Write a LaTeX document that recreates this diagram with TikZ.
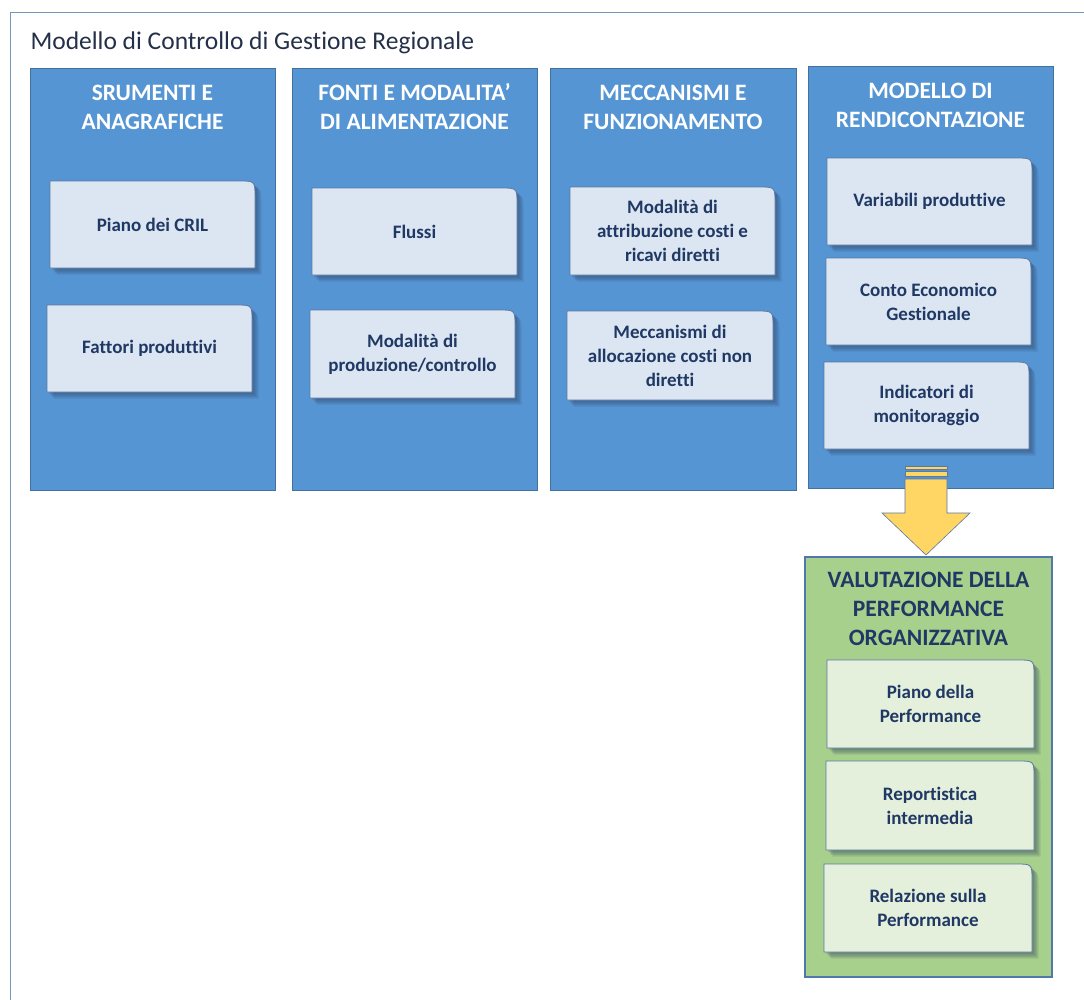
\documentclass[tikz,border=0pt]{standalone}
\usepackage{fontspec}
\setmainfont[Ligatures=NoCommon]{Carlito}
\usetikzlibrary{calc}
\pgfdeclarelayer{bg}
\pgfdeclarelayer{mid}
\pgfsetlayers{bg,mid,main}
\definecolor{colfill}{RGB}{86,149,212}
\definecolor{colborder}{RGB}{65,113,156}
\definecolor{boxblue}{RGB}{220,230,242}
\definecolor{boxgreen}{RGB}{228,239,220}
\definecolor{greenfill}{RGB}{168,208,141}
\definecolor{greenborder}{RGB}{80,120,170}
\definecolor{boxborder}{RGB}{90,120,160}
\definecolor{navy}{RGB}{31,56,100}
\definecolor{titlec}{RGB}{36,48,72}
\definecolor{framec}{RGB}{120,150,185}
\definecolor{yellowc}{RGB}{255,214,100}
\definecolor{shadowc}{RGB}{40,60,90}
\tikzset{
  col/.style={draw=colborder, line width=1pt, fill=colfill, inner sep=0pt},
  gcol/.style={draw=greenborder, line width=1.2pt, fill=greenfill, inner sep=0pt},
  head/.style={text=white, font=\fontsize{23.5}{29}\selectfont\bfseries, align=center},
  ghead/.style={text=navy, font=\fontsize{23.5}{29}\selectfont\bfseries, align=center},
  btext/.style={text=navy, font=\fontsize{19}{24}\selectfont\bfseries, align=center},
  boxline/.style={draw=boxborder, line width=0.8pt},
}
% #1 name, #2 x1, #3 y1, #4 x2, #5 y2, #6 fill, #7 text
\newcommand{\ibox}[7]{%
  \begin{pgfonlayer}{mid}
    \foreach \s in {2,3.5,5,6.5}{%
      \fill[shadowc, opacity=0.14] ({#2+\s},{#5+\s}) -- ({#2+\s},{#3+\s}) -- ({#4-16+\s},{#3+\s}) .. controls ({#4+\s},{#3+\s}) .. ({#4+\s},{#3+16+\s}) -- ({#4+\s},{#5+\s}) -- cycle;
    }
    \path[boxline, fill=#6] (#2,#5) -- (#2,#3) -- ({#4-16},#3) .. controls (#4,#3) .. (#4,{#3+16}) -- (#4,#5) -- cycle;
  \end{pgfonlayer}
  \node[btext] (#1) at ({(#2+#4)/2},{(#3+#5)/2}) {#7};
}
\begin{document}
\begin{tikzpicture}[x=1pt,y=-1pt]
\useasboundingbox (0,0) rectangle (1084,999);
\begin{pgfonlayer}{bg}
  \draw[framec, line width=1pt] (10,12) rectangle (1095,1010);
  \node[col, minimum width=245pt, minimum height=422pt] (c1) at (152.5,279) {};
  \node[col, minimum width=245pt, minimum height=422pt] (c2) at (414.5,279) {};
  \node[col, minimum width=246pt, minimum height=422pt] (c3) at (673,279) {};
  \node[col, minimum width=245pt, minimum height=422pt] (c4) at (930.5,277) {};
  \node[gcol, minimum width=247pt, minimum height=420pt] (g) at (928.5,767) {};
\end{pgfonlayer}

\node[anchor=west, text=titlec, font=\fontsize{25.5}{30}\selectfont] (title) at (27,43) {Modello di Controllo di Gestione Regionale};

\node[head] (h1) at (152.5,107) {SRUMENTI E\\ANAGRAFICHE};
\node[head] (h2) at (414.5,107) {FONTI E MODALITA’\\DI ALIMENTAZIONE};
\node[head] (h3) at (673,107) {MECCANISMI E\\FUNZIONAMENTO};
\node[head] (h4) at (930.5,105) {MODELLO DI\\RENDICONTAZIONE};
\node[ghead] (gh) at (928.5,609) {VALUTAZIONE DELLA\\PERFORMANCE\\ORGANIZZATIVA};

\ibox{b11}{50}{181}{255}{268}{boxblue}{Piano dei CRIL}
\ibox{b12}{47}{305}{252}{392}{boxblue}{Fattori produttivi}
\ibox{b21}{312}{188}{517}{275}{boxblue}{Flussi}
\ibox{b22}{310}{310}{515}{398}{boxblue}{Modalità di\\produzione/controllo}
\ibox{b31}{570}{187}{775}{275}{boxblue}{Modalità di\\attribuzione costi e\\ricavi diretti}
\ibox{b32}{567}{311}{773}{400}{boxblue}{Meccanismi di\\allocazione costi non\\diretti}
\ibox{b41}{827}{158}{1032}{245}{boxblue}{Variabili produttive}
\ibox{b42}{826}{258}{1031}{345}{boxblue}{Conto Economico\\Gestionale}
\ibox{b43}{824}{362}{1029}{449}{boxblue}{Indicatori di\\monitoraggio}
\ibox{g1}{827}{660}{1034}{748}{boxgreen}{Piano della\\Performance}
\ibox{g2}{826}{761}{1034}{850}{boxgreen}{Reportistica\\intermedia}
\ibox{g3}{824}{864}{1032}{952}{boxgreen}{Relazione sulla\\Performance}

% yellow arrow
\coordinate (atop) at (926,466);
\coordinate (atip) at (926,555);
\filldraw[fill=yellowc, draw=boxborder, line width=0.6pt] (905,466) rectangle (947,469);
\filldraw[fill=yellowc, draw=boxborder, line width=0.6pt] (905,471.5) rectangle (947,476);
\filldraw[fill=yellowc, draw=boxborder, line width=0.6pt] (905,479) -- (947,479) -- (947,513) -- (970,513) -- (atip) -- (882,513) -- (905,513) -- cycle;
\end{tikzpicture}
\end{document}
